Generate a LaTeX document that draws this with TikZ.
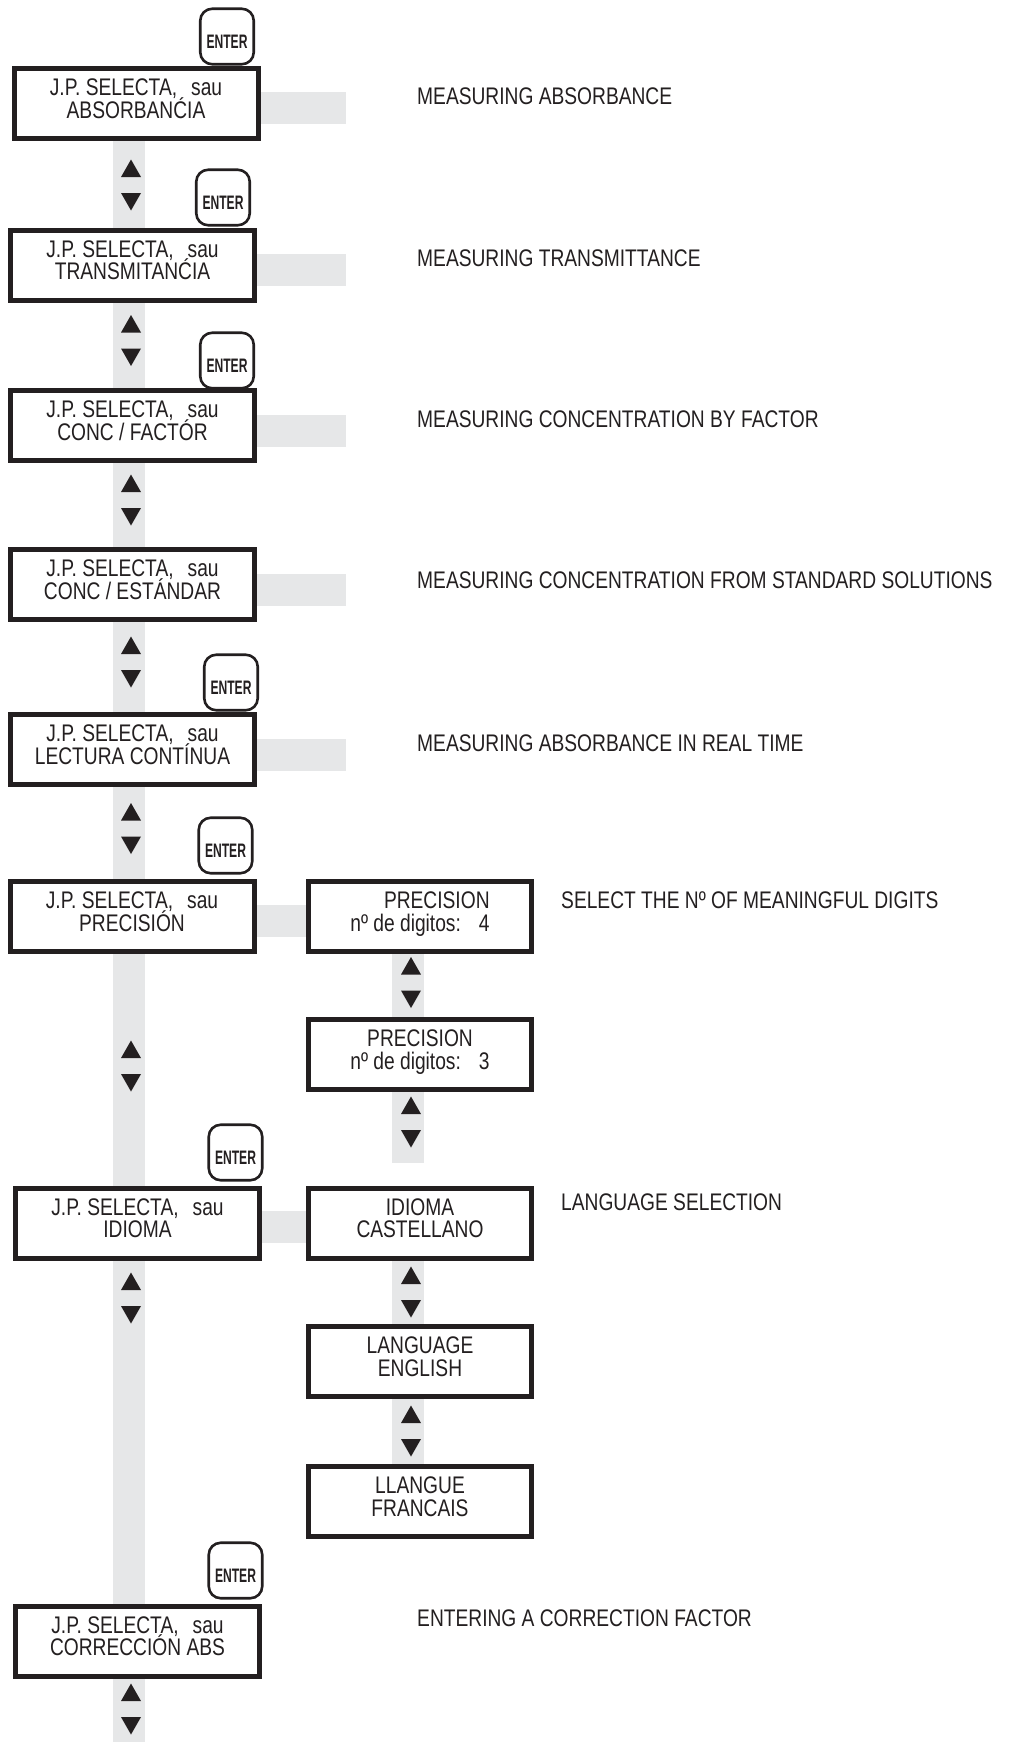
\documentclass[tikz,border=0pt]{standalone}
\usepackage{fontspec}
\setmainfont{Liberation Sans}[FakeStretch=0.8]
\newfontfamily\keyfont{Liberation Sans}[FakeStretch=0.62]
\usetikzlibrary{backgrounds}
\definecolor{ink}{RGB}{35,31,32}
\definecolor{bargray}{RGB}{230,231,232}
\newcommand{\lcdfont}{\fontsize{24}{22.5}\selectfont\lineskiplimit=-30pt\relax}
\newcommand{\lowstrut}{\rule[-10pt]{0pt}{10pt}}
\tikzset{
	lcd/.style={draw=ink, line width=5pt, fill=white, minimum width=244pt, minimum height=70pt, inner sep=0pt, align=center, font=\lcdfont, text=ink},
	sublcd/.style={lcd, minimum width=223pt},
	enterkey/.style={draw=ink, line width=2.6pt, rounded corners=12pt, fill=white, minimum width=53.5pt, minimum height=55.5pt, inner sep=0pt, font=\keyfont\bfseries\fontsize{19.5}{20}\selectfont, text=ink},
	descr/.style={anchor=base west, inner sep=0pt, font=\fontsize{24}{26}\selectfont, text=ink},
	bar/.style={draw=bargray, line width=32pt}
}
\newcommand{\lcdbox}[4]{\node[lcd] (#1) at (#2,#3) {J.P. SELECTA,\hspace{14pt}sau\\#4\lowstrut};}
\newcommand{\sublcdbox}[5]{\node[sublcd] (#1) at (#2,#3) {#4\\#5\lowstrut};}
\newcommand{\entbtn}[3]{\node[enterkey] (#1) at (#2,#3) {\rule{0pt}{24pt}ENTER};}
\newcommand{\updn}[2]{\fill[ink] (#1-10,#2-8) -- (#1+10,#2-8) -- (#1,#2-25.5) -- cycle; \fill[ink] (#1-10,#2+8) -- (#1+10,#2+8) -- (#1,#2+25.5) -- cycle;}
\newcommand{\descr}[4]{\node[descr] (#1) at (#2,#3) {#4};}

\begin{document}
\begin{tikzpicture}[x=1pt, y=-1pt]
	\path[use as bounding box] (0,0) rectangle (1012,1742);

	\lcdbox{b1}{136}{103.5}{ABSORBANĆIA}
	\lcdbox{b2}{132.5}{265}{TRANSMITANĆIA}
	\lcdbox{b3}{132.5}{425.5}{CONC / FACTÓR}
	\lcdbox{b4}{132.5}{584.5}{CONC / ESTÁNDAR}
	\lcdbox{b5}{132.5}{749.5}{LECTURA CONTÍNUA}
	\lcdbox{b6}{132}{916.5}{PRECISIÓN}
	\lcdbox{b7}{137.5}{1223}{IDIOMA}
	\lcdbox{b8}{137.5}{1641}{CORRECCIÓN ABS}

	\node[sublcd, align=right] (r1) at (420,916.5) {PRECISION\\nº de digitos:\hspace{18pt}4\lowstrut};
	\sublcdbox{r2}{420}{1054.5}{PRECISION}{nº de digitos:\hspace{18pt}3}
	\sublcdbox{r3}{420}{1223}{IDIOMA}{CASTELLANO}
	\sublcdbox{r4}{420}{1361.5}{LANGUAGE}{ENGLISH}
	\sublcdbox{r5}{420}{1501.5}{LLANGUE}{FRANCAIS}

	\entbtn{e1}{227}{36.5}
	\entbtn{e2}{223}{197.5}
	\entbtn{e3}{227}{360.5}
	\entbtn{e4}{231}{682.5}
	\entbtn{e5}{225.5}{845.5}
	\entbtn{e6}{235.5}{1152.5}
	\entbtn{e7}{235.5}{1570.5}

	\updn{131}{185}
	\updn{131}{340.5}
	\updn{131}{500}
	\updn{131}{662}
	\updn{131}{828.5}
	\updn{131}{1066}
	\updn{131}{1298}
	\updn{131}{1709}

	\updn{411}{982.5}
	\updn{411}{1122}
	\updn{411}{1292}
	\updn{411}{1431}

	\descr{d1}{417}{105}{MEASURING ABSORBANCE}
	\descr{d2}{417}{266.5}{MEASURING TRANSMITTANCE}
	\descr{d3}{417}{427}{MEASURING CONCENTRATION BY FACTOR}
	\descr{d4}{417}{588}{MEASURING CONCENTRATION FROM STANDARD SOLUTIONS}
	\descr{d5}{417}{751}{MEASURING ABSORBANCE IN REAL TIME}
	\descr{d6}{561}{908.5}{SELECT THE Nº OF MEANINGFUL DIGITS}
	\descr{d7}{561}{1210.5}{LANGUAGE SELECTION}
	\descr{d8}{417}{1626}{ENTERING A CORRECTION FACTOR}

	\coordinate (hend) at (346,0);
	\coordinate (lbar) at (129,1742);
	\coordinate (rbar) at (408,1163);
	\begin{pgfonlayer}{background}
		\fill[white] (0,0) rectangle (1012,1742);
		\draw[bar] (b1.south -| lbar) -- (lbar);
		\foreach \b in {b1,b2,b3,b4,b5}
			\draw[bar] ([yshift=-5pt]\b.east) -- ([yshift=-5pt]\b.east -| hend);
		\draw[bar] ([yshift=-4pt]b6.east) -- ([yshift=-4pt]r1.west);
		\draw[bar] ([yshift=-4pt]b7.east) -- ([yshift=-4pt]r3.west);
		\draw[bar] (r1.south -| rbar) -- (rbar);
		\draw[bar] (r3.south -| rbar) -- (r5.north -| rbar);
	\end{pgfonlayer}
\end{tikzpicture}
\end{document}
